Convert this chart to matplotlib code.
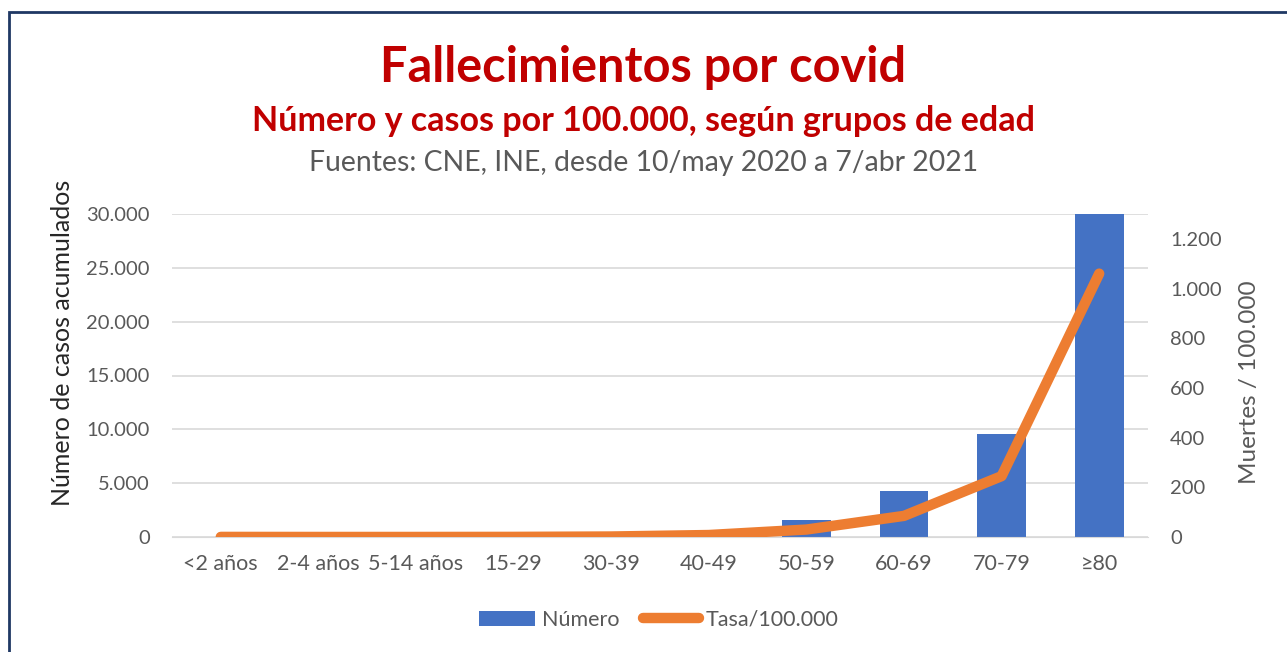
import matplotlib.pyplot as plt
import numpy as np
from matplotlib.patches import Rectangle
from matplotlib.ticker import FuncFormatter

plt.rcParams['font.family'] = ['Lato', 'DejaVu Sans']

grupos = ["<2 años", "2-4 años", "5-14 años", "15-29", "30-39",
          "40-49", "50-59", "60-69", "70-79", "≥80"]
numero = [3, 2, 6, 45, 130, 480, 1600, 4300, 9600, 30000]
tasa = [0.4, 0.2, 0.2, 0.5, 2, 8, 30, 85, 245, 1060]

azul = '#4472C4'
naranja = '#ED7D31'
gris = '#595959'


def miles(v, pos):
    return f"{int(v):,}".replace(",", ".")


fig = plt.figure(figsize=(12.87, 6.52), dpi=100)
ax = fig.add_axes([172 / 1287, 1 - 537 / 652, (1148 - 172) / 1287, (537 - 214) / 652])
ax2 = ax.twinx()

x = np.arange(len(grupos))
ax.bar(x, numero, width=0.5, color=azul, zorder=2, label="Número")
ax2.plot(x, tasa, color=naranja, lw=7.5, solid_capstyle='round',
         solid_joinstyle='round', zorder=3, label="Tasa/100.000")

ax.set_xlim(-0.5, len(grupos) - 0.5)
ax.set_ylim(0, 30000)
ax.set_yticks(np.arange(0, 30001, 5000))
ax2.set_ylim(0, 1300)
ax2.set_yticks(np.arange(0, 1201, 200))
ax.yaxis.set_major_formatter(FuncFormatter(miles))
ax2.yaxis.set_major_formatter(FuncFormatter(miles))

ax.set_xticks(x)
ax.set_xticklabels(grupos)
ax.grid(axis='y', color='#D9D9D9', lw=1.2, zorder=0)
ax.set_axisbelow(True)
for a in (ax, ax2):
    for s in a.spines.values():
        s.set_visible(False)
    a.tick_params(length=0, labelsize=14.5, colors=gris, pad=16)
ax.spines['bottom'].set_visible(True)
ax.spines['bottom'].set_color('#D9D9D9')
ax.tick_params(axis='x', labelsize=15.5, pad=12)

# etiquetas de ejes, centradas como en el original
ax.set_ylabel("Número de casos acumulados", fontsize=18, color='#262626')
ax.yaxis.set_label_coords(-0.1, 0.6)
ax2.set_ylabel("Muertes / 100.000", fontsize=17.5, color=gris)
ax2.yaxis.set_label_coords(1.093, 0.48)

ax.set_zorder(ax2.get_zorder() - 1)
ax2.patch.set_visible(False)
ax.patch.set_visible(False)

fig.text(0.5, 1 - 68 / 652, "Fallecimientos por covid", ha='center', va='center',
         fontsize=35, fontweight='bold', color='#C00000')
fig.text(0.5, 1 - 121 / 652, "Número y casos por 100.000, según grupos de edad",
         ha='center', va='center', fontsize=24.5, fontweight='bold', color='#C00000')
fig.text(0.5, 1 - 163 / 652, "Fuentes: CNE, INE, desde 10/may 2020 a 7/abr 2021",
         ha='center', va='center', fontsize=20.4, color=gris)

h1, l1 = ax.get_legend_handles_labels()
h2, l2 = ax2.get_legend_handles_labels()
fig.legend(h1 + h2, l1 + l2, loc='center', bbox_to_anchor=(0.512, 1 - 620 / 652),
           ncol=2, frameon=False, fontsize=15.5, labelcolor=gris,
           handlelength=2.6, columnspacing=1.1, handletextpad=0.3)

fig.patches.append(Rectangle((9 / 1287, -0.1), 1.2, 1 - 12 / 652 + 0.1,
                             transform=fig.transFigure, fill=False,
                             edgecolor='#1F3864', lw=2))

fig.savefig("out.png", dpi=100)
